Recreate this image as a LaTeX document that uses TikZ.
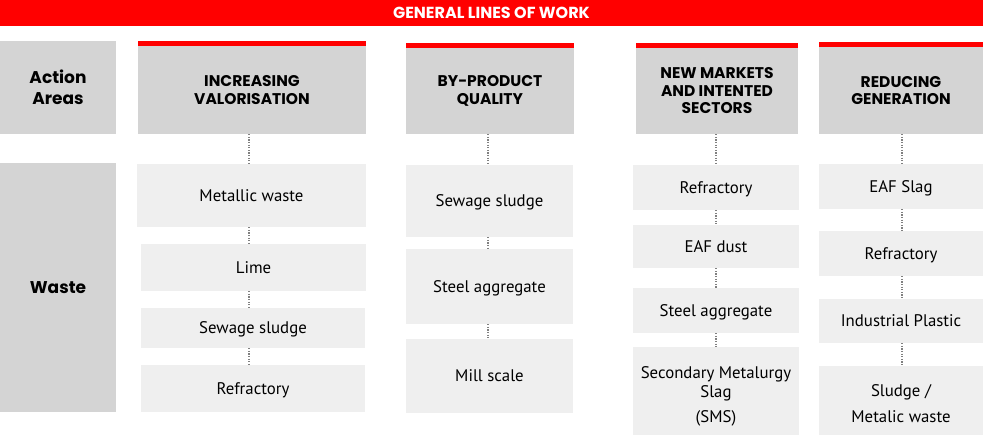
\documentclass[tikz,border=0pt]{standalone}
\usepackage{fontspec}
\setmainfont{PT Sans}
\newfontfamily\headfont{Poppins}
\definecolor{redc}{HTML}{FF0000}
\definecolor{hgray}{HTML}{D4D4D4}
\definecolor{igray}{HTML}{EFEFEF}
\definecolor{dotc}{HTML}{808080}
\begin{document}
\begin{tikzpicture}[x=1pt,y=-1pt,
  hdr/.style={fill=hgray, inner sep=0pt, align=center, font=\headfont\bfseries\fontsize{15.5}{17.5}\selectfont},
  side/.style={fill=hgray, inner sep=0pt, align=center, font=\headfont\bfseries\fontsize{17}{20.5}\selectfont},
  item/.style={fill=igray, inner sep=0pt, align=center, font=\fontsize{16.8}{19.5}\selectfont},
  single/.style={item, text height=12pt, text depth=0pt},
  dotline/.style={draw=dotc, line width=1.6pt, dash pattern=on 1.3pt off 1.3pt},
  redstrip/.style={fill=redc}]
\useasboundingbox (0,0) rectangle (983,435);
% top bar
\node[fill=redc, minimum width=983pt, minimum height=26pt, inner sep=0pt, text=white,
      font=\headfont\bfseries\fontsize{16}{18}\selectfont] (top) at (491.5,13) {GENERAL LINES OF WORK};
% side
\node[side, minimum width=116pt, minimum height=93pt] (act) at (58,87.5) {Action\\Areas};
\node[side, minimum width=116pt, minimum height=249pt] (waste) at (58,287.5) {Waste};
% headers
\node[hdr, minimum width=228pt, minimum height=88pt] (h1) at (252,90) {INCREASING\\VALORISATION};
\node[hdr, minimum width=168pt, minimum height=86pt] (h2) at (490,91) {BY-PRODUCT\\QUALITY};
\node[hdr, minimum width=162pt, minimum height=86pt] (h3) at (717,91) {NEW MARKETS\\AND INTENTED\\SECTORS};
\node[hdr, minimum width=164pt, minimum height=87pt] (h4) at (901,90.5) {REDUCING\\GENERATION};
\foreach \h in {h1,h2,h3,h4}{
  \fill[redstrip] (\h.north west) rectangle ([yshift=5pt]\h.north east);
}
% column 1
\node[single, minimum width=229pt, minimum height=63pt] (a1) at (251.5,195.5) {Metallic waste};
\node[single, minimum width=225pt, minimum height=47pt] (a2) at (253.5,267.5) {Lime};
\node[single, minimum width=224pt, minimum height=40pt] (a3) at (253,328) {Sewage sludge};
\node[single, minimum width=224pt, minimum height=47pt] (a4) at (253,388.5) {Refractory};
% column 2
\node[single, minimum width=167pt, minimum height=72pt] (b1) at (489.5,201) {Sewage sludge};
\node[single, minimum width=167pt, minimum height=75pt] (b2) at (489.5,286.5) {Steel aggregate};
\node[single, minimum width=167pt, minimum height=74pt] (b3) at (489.5,376) {Mill scale};
% column 3
\node[single, minimum width=166pt, minimum height=45pt] (c1) at (716,187.5) {Refractory};
\node[single, minimum width=166pt, minimum height=43pt] (c2) at (716,246.5) {EAF dust};
\node[single, minimum width=166pt, minimum height=45pt] (c3) at (716,310.5) {Steel aggregate};
\node[item, minimum width=166pt, minimum height=88pt] (c4) at (716,391) {};
\node[item, fill=none, anchor=center] (c4t) at (716,396) {Secondary Metalurgy\\Slag\\[5pt](SMS)};
% column 4
\node[single, minimum width=164pt, minimum height=45pt] (d1) at (901,186.5) {EAF Slag};
\node[single, minimum width=164pt, minimum height=45pt] (d2) at (901,253.5) {Refractory};
\node[single, minimum width=164pt, minimum height=44pt] (d3) at (901,321) {Industrial Plastic};
\node[item, minimum width=164pt, minimum height=69pt] (d4) at (901,400.5) {};
\node[item, fill=none] (d4t) at (901,403.5) {Sludge /\\[6pt]Metalic waste};
% connectors
\draw[dotline] ([xshift=-3pt]h1.south) -- ([xshift=-3pt]h1.south |- a1.north);
\draw[dotline] ([xshift=-3pt]h1.south |- a1.south) -- ([xshift=-3pt]h1.south |- a2.north);
\draw[dotline] ([xshift=-3pt]h1.south |- a2.south) -- ([xshift=-3pt]h1.south |- a3.north);
\draw[dotline] ([xshift=-3pt]h1.south |- a3.south) -- ([xshift=-3pt]h1.south |- a4.north);
\draw[dotline] ([xshift=-2pt]h2.south) -- ([xshift=-2pt]h2.south |- b1.north);
\draw[dotline] ([xshift=-2pt]h2.south |- b1.south) -- ([xshift=-2pt]h2.south |- b2.north);
\draw[dotline] ([xshift=-2pt]h2.south |- b2.south) -- ([xshift=-2pt]h2.south |- b3.north);
\draw[dotline] (c1.north |- h3.south) -- (c1.north);
\draw[dotline] (c1.south) -- (c2.north);
\draw[dotline] (c2.south) -- (c3.north);
\draw[dotline] (c3.south) -- (c4.north);
\draw[dotline] ([xshift=1pt]d1.north |- h4.south) -- ([xshift=1pt]d1.north);
\draw[dotline] ([xshift=1pt]d1.south) -- ([xshift=1pt]d2.north);
\draw[dotline] ([xshift=1pt]d2.south) -- ([xshift=1pt]d3.north);
\draw[dotline] ([xshift=1pt]d3.south) -- ([xshift=1pt]d4.north);
\end{tikzpicture}
\end{document}
